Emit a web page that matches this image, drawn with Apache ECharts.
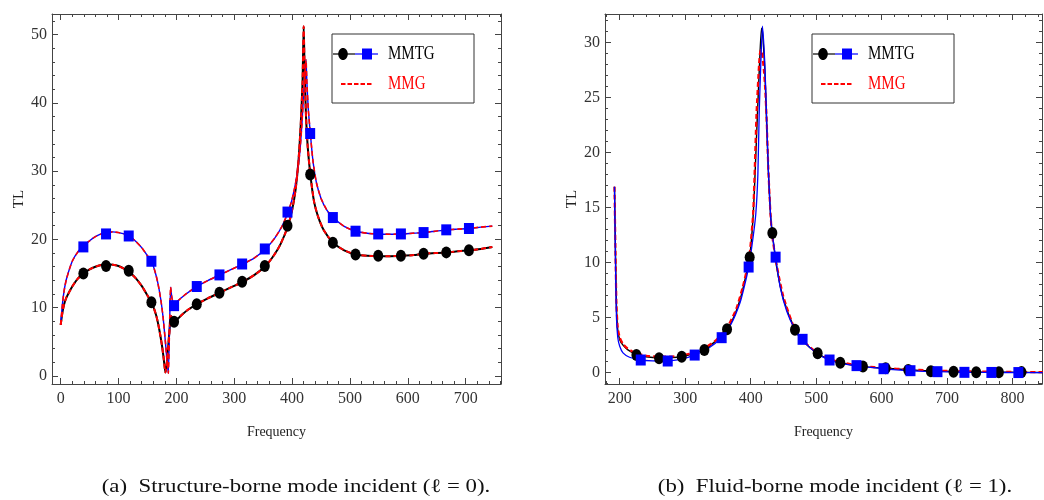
<!DOCTYPE html>
<html><head><meta charset="utf-8">
<script src="https://cdn.jsdelivr.net/npm/echarts@6/dist/echarts.min.js"></script>
<style>html,body{margin:0;padding:0;background:#fff}#c{width:1044px;height:500px}</style>
</head><body><div id="c"></div><script>
// ---------- (a) Structure-borne mode incident ----------
const aXTicks = [0, 100, 200, 300, 400, 500, 600, 700];
const aYTicks = [0, 10, 20, 30, 40, 50];
const aLower = [[0,7.5],[3,9.3],[6,10.5],[10,11.5],[20,13.1],[30,14.3],[40,15.0],[50,15.6],[60,16.0],[70,16.25],[80,16.35],[90,16.3],[100,16.1],[110,15.7],[120,15.1],[130,14.3],[140,13.2],[150,11.8],[158,10.6],[165,8.9],[170,7.0],[175,4.5],[178,2.6],[181,0.5],[183,1.5],[186,4.5],[189,7.6],[191,8.8],[193,8.4],[196,8.0],[200,8.2],[210,9.0],[220,9.7],[235,10.5],[255,11.4],[275,12.2],[295,13.0],[315,13.8],[335,14.8],[354,16.1],[368,17.6],[380,19.3],[393,22.0],[400,24.3],[406,27.3],[411,31.5],[415,37],[418,43],[420,51.2],[421.5,45],[424,38],[427,33.5],[431.5,29.5],[438,25.5],[445,23.3],[455,21.3],[471,19.5],[490,18.4],[510,17.8],[530,17.6],[550,17.55],[570,17.55],[590,17.6],[610,17.7],[627,17.9],[647,18.0],[667,18.1],[686,18.25],[706,18.4],[726,18.6],[746,18.9]];
const aUpper = [[0,7.5],[3,10.5],[6,12.5],[10,14.2],[20,16.8],[30,18.2],[40,19.1],[50,19.8],[60,20.4],[70,20.8],[80,21.0],[90,21.1],[100,21.0],[110,20.8],[120,20.4],[130,19.7],[140,18.8],[150,17.6],[157,16.8],[163,15.3],[168,13.6],[173,11.2],[177,8.6],[181,5.0],[184,2.0],[186,0.4],[188,6.5],[190,13.0],[192,11.6],[196,10.3],[200,10.8],[215,11.9],[235,13.1],[255,14.0],[275,14.8],[295,15.6],[315,16.4],[335,17.3],[354,18.6],[370,20.2],[383,22.0],[393,24.0],[400,25.9],[407,28.7],[413,32.5],[417,37],[420,41.5],[422.5,44.5],[424,46.3],[425.5,43],[428,39],[431.5,35.5],[436,31.5],[442,28.3],[450,26.0],[460,24.3],[471,23.2],[490,21.9],[510,21.2],[530,20.9],[550,20.8],[570,20.75],[590,20.8],[608,20.9],[627,21.0],[647,21.2],[667,21.4],[686,21.5],[706,21.6],[726,21.8],[746,21.95]];
const aMarkX = [39.2,78.4,117.6,156.8,196,235.2,274.4,313.6,352.8,392,431.2,470.4,509.6,548.8,588,627.2,666.4,705.6];
const aLowerMarkY = [15.0,16.1,15.4,10.8,7.95,10.5,12.2,13.8,16.1,22.0,29.5,19.5,17.8,17.6,17.6,17.9,18.1,18.4];
const aUpperMarkY = [18.9,20.8,20.5,16.8,10.3,13.1,14.8,16.4,18.6,24.0,35.5,23.2,21.2,20.8,20.8,21.0,21.4,21.6];

// ---------- (b) Fluid-borne mode incident ----------
const bXTicks = [200, 300, 400, 500, 600, 700, 800];
const bYTicks = [0, 5, 10, 15, 20, 25, 30];
const bMMTGBlack = [[192,16.9],[193.5,11],[195,6],[197,3.9],[200,3.0],[205,2.5],[212,2.1],[225.5,1.65],[240,1.45],[260,1.35],[280,1.38],[295,1.45],[310,1.7],[329,2.1],[345,2.8],[364,3.94],[376,5.3],[386,7.1],[393,8.9],[398.5,10.5],[403,13.5],[406,17],[410,23],[413.5,28],[416.5,31.3],[418,31],[421.6,27.5],[424.2,23],[427,18.3],[430.3,14.4],[433,12.7],[440,9.5],[450,6.7],[467.7,3.9],[480,2.85],[502,1.76],[520,1.2],[537,0.9],[555,0.7],[571,0.55],[606,0.4],[640,0.27],[675,0.16],[710,0.1],[745,0.06],[780,0.04],[814,0.03],[846,0.02]];
const bMMTGBlue = [[192,16.9],[193.5,10],[195,5],[197,3.2],[200,2.4],[205,1.8],[215,1.4],[232,1.15],[250,1.08],[273,1.06],[295,1.25],[314,1.6],[335,2.2],[355,3.18],[370,4.4],[384,6.4],[391,8.0],[396.9,9.6],[403,12.0],[407.8,14.4],[411,18],[413,23.5],[415.5,28.1],[418,31.5],[421.6,28.1],[424.2,23.5],[427,18.5],[430.3,14.4],[433,12.6],[438,10.5],[445,7.8],[455,5.6],[467,4.0],[479,3.03],[490,2.3],[505,1.6],[520,1.15],[540,0.82],[561,0.64],[580,0.5],[602,0.36],[623,0.26],[644,0.18],[665,0.12],[685,0.09],[726,0.04],[767,0.02],[808,0.01],[846,0.0]];
const bMMG = [[192,16.9],[193.5,11],[195,6.2],[197,4.1],[200,3.2],[205,2.6],[212,2.2],[225,1.75],[245,1.5],[265,1.45],[285,1.5],[305,1.7],[325,2.1],[345,2.85],[364,4.1],[378,5.8],[388,7.8],[395,9.6],[398.5,10.8],[403.7,14.4],[406.5,19],[408.9,23.5],[412.9,28.1],[415,29.3],[417,29.2],[420,27.6],[422,26],[424.2,23.3],[427,18.5],[430.3,14.4],[433,12.4],[440,9.7],[450,6.9],[467,4.0],[480,2.9],[502,1.8],[520,1.25],[537,0.95],[571,0.6],[606,0.42],[640,0.3],[675,0.2],[710,0.15],[745,0.11],[780,0.08],[814,0.06],[846,0.05]];
const bCircleX = [225.5,260.1,294.7,329.3,363.9,398.5,433.1,467.7,502.3,536.9,571.5,606.1,640.7,675.3,709.9,744.5,779.1,813.7];
const bCircleY = [1.6,1.3,1.45,2.06,3.94,10.5,12.7,3.9,1.76,0.9,0.55,0.4,0.25,0.12,0.08,0.03,0.03,0.05];
const bSquareX = [232.1,273.3,314.5,355.7,396.9,438.1,479.3,520.5,561.7,602.9,644.1,685.3,726.5,767.7,808.9];
const bSquareY = [1.15,1.06,1.6,3.18,9.6,10.5,3.03,1.15,0.64,0.36,0.18,0.09,0.03,0.02,0.01];

const legendNames = ['MMTG', 'MMG'];
const captions = ['(a)  Structure-borne mode incident (\u2113 = 0).', '(b)  Fluid-borne mode incident (\u2113 = 1).'];

// ---------- styling / build ----------
const FONT = '"Liberation Serif", "Times New Roman", serif';
const FRAME = '#444';
function minorList(min, max, step, major) {
  const out = [];
  for (let v = Math.ceil(min / step) * step; v <= max + 1e-9; v += step) {
    const r = Math.round(v * 1000) / 1000;
    if (major.indexOf(r) < 0) out.push(r);
  }
  return out;
}
function axesFor(dim, grid, min, max, major, minor, name, nameGap, nameSize) {
  const posA = dim === 'x' ? 'bottom' : 'left';
  const posB = dim === 'x' ? 'top' : 'right';
  const base = {type: 'value', gridIndex: grid, min: min, max: max, splitLine: {show: false}, axisPointer: {show: false}};
  const line = {show: true, onZero: false, lineStyle: {color: FRAME, width: 1}};
  return [
    Object.assign({}, base, {position: posA, name: name, nameLocation: 'middle', nameGap: nameGap,
      nameTextStyle: {fontFamily: FONT, fontSize: nameSize, color: '#222'},
      axisLine: line,
      axisTick: {show: true, inside: true, length: 6, customValues: major, lineStyle: {color: FRAME}},
      axisLabel: {show: true, customValues: major, fontFamily: FONT, fontSize: 16, color: '#333', margin: dim === 'x' ? 7 : 5}}),
    Object.assign({}, base, {position: posA, axisLine: {show: false, onZero: false},
      axisTick: {show: true, inside: true, length: 3, customValues: minor, lineStyle: {color: FRAME}}, axisLabel: {show: false}}),
    Object.assign({}, base, {position: posB, axisLine: line,
      axisTick: {show: true, inside: true, length: 6, customValues: major, lineStyle: {color: FRAME}}, axisLabel: {show: false}}),
    Object.assign({}, base, {position: posB, axisLine: {show: false, onZero: false},
      axisTick: {show: true, inside: true, length: 3, customValues: minor, lineStyle: {color: FRAME}}, axisLabel: {show: false}})
  ];
}
const aX = [-15, 761], aY = [-1.17, 53];
const bX = [177.5, 845], bY = [-1.03, 32.6];
const xAxes = axesFor('x', 0, aX[0], aX[1], aXTicks, minorList(aX[0], aX[1], 20, aXTicks), 'Frequency', 41, 14)
  .concat(axesFor('x', 1, bX[0], bX[1], bXTicks, minorList(bX[0], bX[1], 20, bXTicks), 'Frequency', 41, 14));
const yAxes = axesFor('y', 0, aY[0], aY[1], aYTicks, minorList(aY[0], aY[1], 2, aYTicks), 'TL', 25, 15)
  .concat(axesFor('y', 1, bY[0], bY[1], bYTicks, minorList(bY[0], bY[1], 1, bYTicks), 'TL', 25, 15));

function lineS(data, ai, color, width, dashed, z) {
  return {type: 'line', xAxisIndex: ai, yAxisIndex: ai, data: data, showSymbol: false, symbol: 'none',
    smooth: 0.2, silent: true, lineStyle: {color: color, width: width, type: dashed ? [5, 3] : 'solid'}, z: z};
}
function markS(xs, ys, ai, symbol, size, color) {
  return {type: 'scatter', xAxisIndex: ai, yAxisIndex: ai, data: xs.map((x, i) => [x, ys[i]]),
    symbol: symbol, symbolSize: size, itemStyle: {color: color, opacity: 1}, silent: true, z: 10};
}
const series = [
  lineS(aLower, 0, '#000', 2, false, 2),
  lineS(aUpper, 0, '#0000ff', 1.4, false, 2),
  lineS(aLower, 0, '#ff0000', 2, true, 3),
  lineS(aUpper, 0, '#ff0000', 1.6, true, 3),
  markS(aMarkX, aLowerMarkY, 0, 'circle', [10, 12], '#000'),
  markS(aMarkX, aUpperMarkY, 0, 'rect', [10, 11], '#0000ff'),
  lineS(bMMTGBlack, 4, '#000', 1.4, false, 2),
  lineS(bMMG, 4, '#ff0000', 2.2, true, 3),
  lineS(bMMTGBlue, 4, '#0000ff', 1.3, false, 4),
  markS(bCircleX, bCircleY, 4, 'circle', [10, 12], '#000'),
  markS(bSquareX, bSquareY, 4, 'rect', [10, 11], '#0000ff')
];

function legendGraphics(dx) {
  return [
    {type: 'rect', z: 100, shape: {x: 332 + dx, y: 34, width: 142, height: 69}, style: {fill: '#fff', stroke: '#333', lineWidth: 1}},
    {type: 'line', z: 101, shape: {x1: 333 + dx, y1: 54, x2: 355 + dx, y2: 54}, style: {stroke: '#000', lineWidth: 1.2}},
    {type: 'line', z: 101, shape: {x1: 355 + dx, y1: 54, x2: 378 + dx, y2: 54}, style: {stroke: '#0000ff', lineWidth: 1.2}},
    {type: 'ellipse', z: 102, shape: {cx: 343 + dx, cy: 54, rx: 4.8, ry: 6}, style: {fill: '#000'}},
    {type: 'rect', z: 102, shape: {x: 362 + dx, y: 48.5, width: 10, height: 11}, style: {fill: '#0000ff'}},
    {type: 'text', z: 102, x: 388 + dx, y: 54, scaleY: 1.25, style: {text: legendNames[0], fill: '#000', fontFamily: FONT, fontSize: 15, align: 'left', verticalAlign: 'middle', textAlign: 'left', textVerticalAlign: 'middle'}},
    {type: 'line', z: 101, shape: {x1: 341 + dx, y1: 84, x2: 373 + dx, y2: 84}, style: {stroke: '#ff0000', lineWidth: 2, lineDash: [4.5, 2]}},
    {type: 'text', z: 102, x: 388 + dx, y: 84, scaleY: 1.25, style: {text: legendNames[1], fill: '#ff0000', fontFamily: FONT, fontSize: 15, align: 'left', verticalAlign: 'middle', textAlign: 'left', textVerticalAlign: 'middle'}}
  ];
}
function caption(txt, cx) {
  return {type: 'text', z: 100, x: cx, y: 487, scaleX: 1.2, style: {text: txt, fill: '#111', fontFamily: FONT, fontSize: 19, align: 'center', verticalAlign: 'middle', textAlign: 'center', textVerticalAlign: 'middle'}};
}

const chart = echarts.init(document.getElementById('c'), null, {renderer: 'canvas'});
chart.setOption({
  animation: false,
  backgroundColor: '#fff',
  grid: [
    {left: 52, top: 14, width: 449, height: 370, containLabel: false},
    {left: 605, top: 14, width: 437, height: 370, containLabel: false}
  ],
  xAxis: xAxes,
  yAxis: yAxes,
  series: series,
  graphic: legendGraphics(0).concat(legendGraphics(480)).concat([caption(captions[0], 296), caption(captions[1], 835)])
});
</script></body></html>
